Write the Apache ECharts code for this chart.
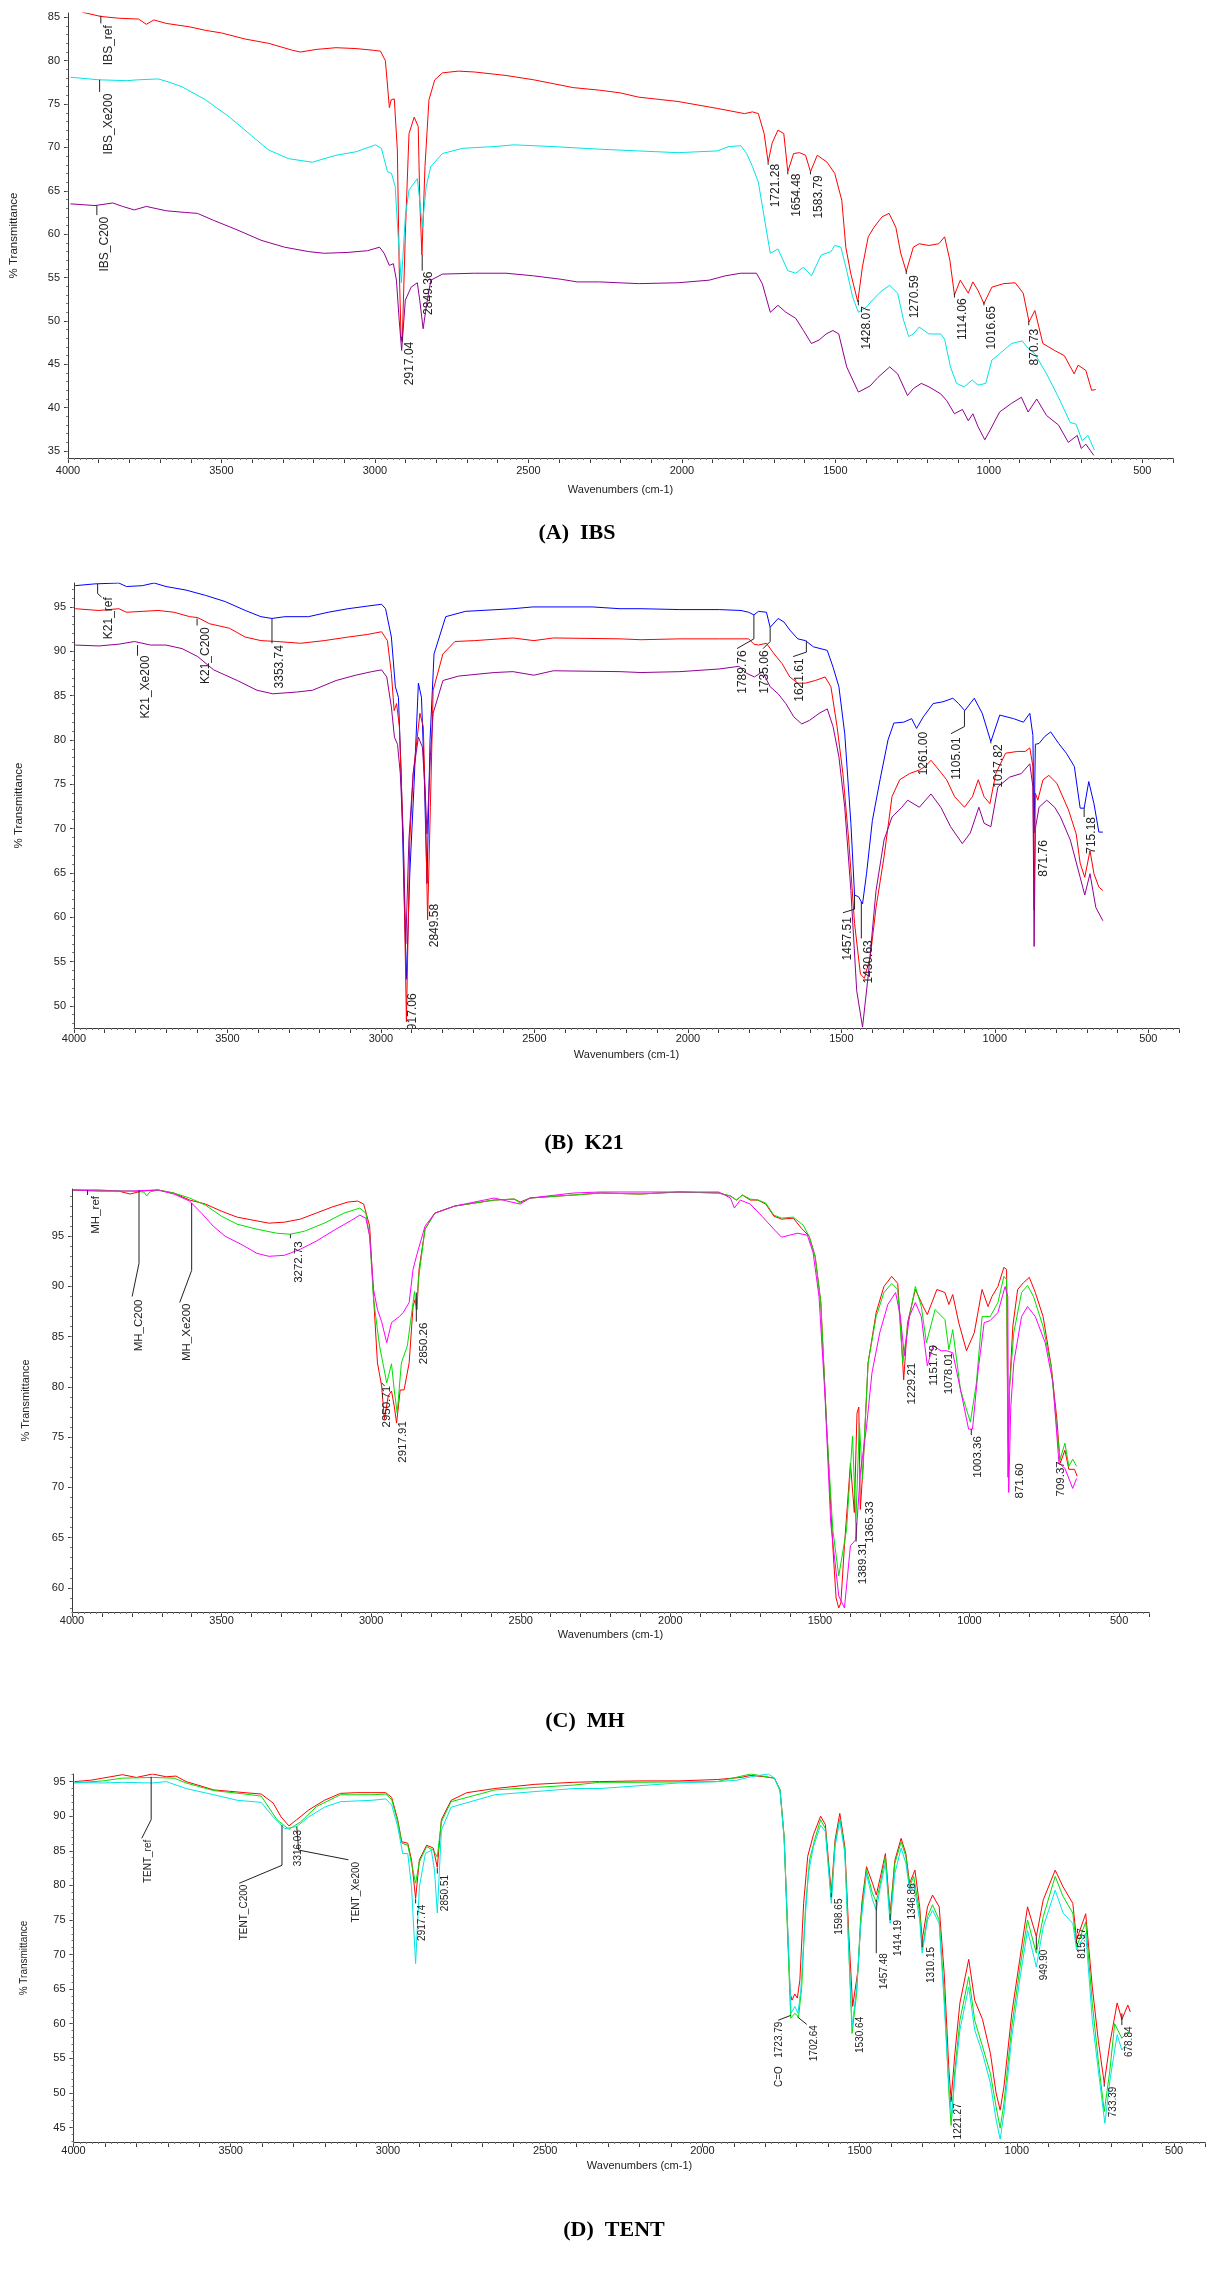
<!DOCTYPE html>
<html><head><meta charset="utf-8">
<script src="https://cdn.jsdelivr.net/npm/echarts@6/dist/echarts.min.js"></script>
<style>html,body{margin:0;padding:0;background:#fff}#c{width:1215px;height:2285px}</style>
</head><body><div id="c"></div>
<script>
// ---------- tick labels ----------
var xTickLabels = [4000,3500,3000,2500,2000,1500,1000,500];
var yTickLabelsA = [35,40,45,50,55,60,65,70,75,80,85];
var yTickLabelsB = [50,55,60,65,70,75,80,85,90,95];
var yTickLabelsC = [60,65,70,75,80,85,90,95];
var yTickLabelsD = [45,50,55,60,65,70,75,80,85,90,95];
var panelTitles = ['(A)  IBS','(B)  K21','(C)  MH','(D)  TENT'];
var seriesNames = [['IBS_ref','IBS_Xe200','IBS_C200'],['K21_ref','K21_C200','K21_Xe200'],['MH_ref','MH_C200','MH_Xe200'],['TENT_ref','TENT_C200','TENT_Xe200']];

// ---------- (A) IBS ----------
var ibsRef = [[3954,85.6],[3893,85.1],[3835,84.9],[3770,84.8],[3745,84.2],[3720,84.7],[3680,84.3],[3603,83.9],[3552,83.5],[3500,83.2],[3423,82.5],[3346,82.0],[3268,81.2],[3243,81.0],[3191,81.3],[3127,81.5],[3062,81.4],[3004,81.2],[2982,81.1],[2966,80.0],[2953,74.6],[2947,75.5],[2937,75.6],[2927,69.7],[2921,56.2],[2915,48.2],[2911,47.7],[2901,60.1],[2889,71.6],[2872,73.5],[2859,72.4],[2854,64.0],[2847,57.6],[2837,67.8],[2824,75.5],[2805,77.8],[2780,78.6],[2728,78.8],[2676,78.7],[2573,78.3],[2483,77.8],[2354,76.9],[2268,76.6],[2202,76.3],[2141,75.8],[2013,75.3],[1885,74.5],[1796,73.9],[1770,74.1],[1751,73.9],[1732,71.6],[1719,68.3],[1706,70.5],[1687,72.0],[1668,71.6],[1655,67.2],[1636,69.3],[1617,69.4],[1597,69.1],[1581,67.2],[1559,69.1],[1527,68.3],[1502,67.0],[1479,63.9],[1466,58.5],[1450,55.5],[1427,52.2],[1412,56.2],[1393,59.7],[1374,60.8],[1348,62.0],[1325,62.4],[1303,60.8],[1287,57.8],[1269,55.7],[1246,58.5],[1227,58.9],[1195,58.7],[1163,58.9],[1144,59.7],[1127,57.0],[1112,53.0],[1093,54.7],[1067,53.2],[1052,54.5],[1035,53.5],[1016,52.0],[990,53.9],[952,54.3],[914,54.4],[888,53.2],[869,49.9],[850,51.2],[824,47.4],[786,46.6],[754,46.0],[722,43.9],[709,44.9],[684,44.3],[665,42.0],[652,42.1]];
var ibsXe200 = [[3992,78.1],[3900,77.8],[3809,77.7],[3771,77.8],[3706,77.9],[3668,77.5],[3629,77.0],[3552,75.5],[3474,73.5],[3397,71.2],[3346,69.7],[3281,68.7],[3204,68.3],[3127,69.1],[3062,69.5],[2998,70.3],[2979,69.9],[2959,67.2],[2946,67.0],[2934,65.5],[2925,60.1],[2914,54.4],[2901,62.0],[2889,65.1],[2862,66.4],[2854,63.9],[2846,60.8],[2833,65.5],[2818,67.8],[2780,69.3],[2715,69.9],[2612,70.1],[2547,70.3],[2418,70.1],[2268,69.8],[2141,69.6],[2013,69.4],[1885,69.6],[1847,70.1],[1808,70.2],[1789,69.3],[1770,67.8],[1751,66.0],[1732,62.0],[1712,57.8],[1687,58.3],[1655,55.8],[1629,55.5],[1604,56.2],[1578,55.2],[1546,57.6],[1514,58.0],[1502,58.7],[1482,58.5],[1463,55.8],[1444,52.8],[1425,51.0],[1399,51.6],[1374,52.6],[1348,53.5],[1323,54.1],[1297,53.2],[1278,50.1],[1261,48.2],[1246,48.5],[1227,49.3],[1195,48.5],[1157,48.5],[1144,47.9],[1125,44.7],[1105,42.8],[1080,42.4],[1054,43.2],[1035,42.6],[1010,42.8],[990,45.5],[965,46.2],[926,47.4],[891,47.7],[876,47.0],[850,46.2],[812,43.9],[773,41.2],[735,38.3],[716,38.1],[696,36.2],[677,36.8],[656,35.1]];
var ibsC200 = [[3992,63.5],[3912,63.3],[3854,63.6],[3822,63.2],[3784,62.8],[3745,63.2],[3680,62.7],[3616,62.5],[3578,62.4],[3526,61.6],[3449,60.5],[3371,59.3],[3294,58.5],[3217,58.0],[3165,57.8],[3088,57.9],[3024,58.1],[2985,58.5],[2970,57.8],[2953,56.4],[2940,56.6],[2930,54.7],[2921,50.1],[2913,46.6],[2901,52.4],[2882,53.9],[2862,54.4],[2854,52.4],[2843,49.1],[2833,51.6],[2818,54.7],[2780,55.4],[2676,55.5],[2573,55.5],[2483,55.2],[2393,54.8],[2341,54.5],[2268,54.5],[2141,54.3],[2013,54.4],[1911,54.7],[1859,55.2],[1808,55.5],[1757,55.5],[1738,54.3],[1712,51.0],[1687,51.8],[1661,51.0],[1629,50.3],[1604,48.9],[1578,47.4],[1553,47.8],[1530,48.5],[1508,48.9],[1489,48.5],[1463,44.7],[1425,41.8],[1387,42.5],[1361,43.5],[1323,44.7],[1297,43.9],[1265,41.4],[1246,42.2],[1220,42.8],[1195,42.4],[1157,41.6],[1137,40.8],[1112,39.3],[1086,39.8],[1067,38.5],[1052,39.3],[1035,37.8],[1013,36.3],[990,37.8],[965,39.5],[926,40.5],[894,41.2],[872,39.5],[844,41.0],[812,39.1],[773,38.0],[741,36.0],[712,36.8],[699,35.3],[684,35.8],[658,34.5]];
// label: [text, textX, textTopY, leader points]
var ibsLabels = [
 ['IBS_ref',3867,84.1,[[3893,85.2],[3893,84.3]]],
 ['IBS_Xe200',3867,76.2,[[3897,77.8],[3897,76.4]]],
 ['IBS_C200',3880,62.0,[[3906,63.3],[3906,62.2]]],
 ['2917.04',2888,47.6,[[2912,48.2],[2912,47.6]]],
 ['2849.36',2824,55.7,[[2846,57.6],[2846,55.8]]],
 ['1721.28',1693,68.1,[[1719,68.3],[1719,68.0]]],
 ['1654.48',1627,67.0,[[1655,67.2],[1655,66.9]]],
 ['1583.79',1555,66.8,[[1581,67.2],[1581,66.9]]],
 ['1428.07',1399,51.7,[[1425,52.4],[1425,51.8]]],
 ['1270.59',1243,55.3,[[1269,55.8],[1269,55.4]]],
 ['1114.06',1086,52.6,[[1112,53.2],[1112,52.7]]],
 ['1016.65',990,51.7,[[1016,52.2],[1016,51.8]]],
 ['870.73',852,49.1,[[870,50.0],[870,49.5]]]
];

// ---------- (B) K21 ----------
var k21Ref = [[3996,97.4],[3932,97.6],[3854,97.7],[3829,97.3],[3777,97.4],[3739,97.7],[3700,97.3],[3635,96.9],[3571,96.3],[3507,95.6],[3442,94.6],[3391,93.9],[3355,93.7],[3313,93.9],[3236,93.9],[3172,94.4],[3107,94.8],[3043,95.1],[2998,95.3],[2985,94.8],[2966,91.6],[2953,86.0],[2943,84.8],[2934,76.2],[2925,63.0],[2917,53.0],[2906,64.9],[2893,74.3],[2878,86.4],[2868,84.8],[2859,76.2],[2850,63.8],[2840,80.0],[2827,89.7],[2789,93.9],[2725,94.5],[2570,94.8],[2505,95.0],[2312,95.0],[2221,94.8],[2153,94.8],[2026,94.7],[1898,94.7],[1827,94.6],[1802,94.4],[1785,94.1],[1770,94.5],[1744,94.4],[1732,92.7],[1706,93.7],[1687,93.3],[1668,92.4],[1642,91.4],[1617,91.2],[1591,90.5],[1546,90.1],[1527,88.2],[1508,86.0],[1489,80.7],[1469,70.6],[1457,62.5],[1444,62.3],[1431,61.5],[1418,64.9],[1399,70.9],[1374,75.5],[1348,80.0],[1329,81.9],[1297,82.0],[1271,82.4],[1255,81.3],[1233,82.6],[1201,84.1],[1169,84.3],[1137,84.7],[1118,84.1],[1098,83.3],[1067,84.7],[1041,83.0],[1013,79.8],[984,82.8],[939,82.4],[907,82.0],[886,83.0],[876,80.5],[872,69.5],[868,79.5],[856,79.6],[837,80.4],[818,80.9],[792,79.6],[767,78.5],[741,77.0],[722,72.3],[709,72.3],[694,75.3],[677,72.8],[661,69.6],[648,69.6]];
var k21C200 = [[3996,94.8],[3919,94.6],[3854,94.8],[3829,94.4],[3726,94.6],[3674,94.4],[3623,93.9],[3597,93.8],[3558,93.1],[3494,92.6],[3442,91.6],[3391,91.2],[3339,91.1],[3262,90.9],[3185,91.2],[3107,91.6],[3043,91.9],[2998,92.2],[2979,91.2],[2966,87.5],[2957,83.3],[2949,84.1],[2940,81.5],[2927,68.7],[2917,48.2],[2906,68.7],[2895,76.2],[2873,83.0],[2862,81.5],[2855,72.4],[2848,59.7],[2839,72.4],[2830,85.6],[2798,89.7],[2759,91.1],[2695,91.2],[2570,91.5],[2502,91.2],[2438,91.5],[2221,91.4],[2153,91.3],[2026,91.4],[1898,91.4],[1802,91.4],[1785,90.8],[1770,90.7],[1744,90.9],[1719,89.7],[1693,88.6],[1668,87.1],[1642,86.4],[1617,86.4],[1585,86.7],[1553,87.1],[1534,86.0],[1514,81.5],[1495,76.2],[1476,68.7],[1457,59.3],[1438,53.6],[1425,53.1],[1406,55.5],[1387,61.1],[1361,66.8],[1335,73.6],[1310,75.5],[1278,76.2],[1246,76.6],[1227,77.0],[1208,77.7],[1182,76.6],[1157,75.5],[1131,73.6],[1099,72.4],[1073,73.6],[1054,75.5],[1035,73.6],[1016,72.8],[997,76.2],[965,78.5],[926,78.7],[901,78.7],[886,79.1],[876,77.0],[872,60.8],[868,74.0],[860,73.2],[843,75.5],[824,76.0],[798,75.1],[760,72.1],[735,69.4],[722,66.1],[707,64.5],[690,67.5],[677,64.9],[661,63.4],[648,63.0]];
var k21Xe200 = [[3996,90.7],[3919,90.6],[3854,90.8],[3803,91.1],[3751,90.7],[3700,90.7],[3648,90.3],[3597,89.4],[3545,87.9],[3468,86.7],[3404,85.6],[3352,85.2],[3275,85.4],[3223,85.6],[3146,86.7],[3082,87.3],[3030,87.7],[2998,87.9],[2981,87.1],[2966,83.7],[2956,80.3],[2946,79.5],[2937,76.2],[2927,68.7],[2919,57.0],[2909,68.7],[2895,76.2],[2878,80.3],[2865,79.2],[2856,74.3],[2850,69.4],[2839,78.1],[2830,83.0],[2798,86.7],[2747,87.2],[2631,87.6],[2570,87.7],[2502,87.3],[2438,87.8],[2221,87.7],[2153,87.6],[2026,87.7],[1898,88.0],[1834,88.3],[1808,87.5],[1783,87.1],[1757,87.7],[1732,86.0],[1706,85.2],[1681,84.1],[1655,82.6],[1629,81.8],[1604,82.2],[1572,83.0],[1546,83.5],[1527,81.5],[1508,78.1],[1489,72.4],[1469,63.0],[1450,51.7],[1431,47.6],[1412,53.6],[1387,63.0],[1361,68.7],[1335,71.3],[1303,72.4],[1284,73.2],[1246,72.4],[1208,73.9],[1176,72.4],[1144,70.2],[1106,68.3],[1080,69.5],[1052,72.4],[1035,70.6],[1013,70.2],[990,74.7],[952,75.8],[914,76.2],[886,77.3],[876,74.7],[872,56.7],[868,70.0],[856,72.4],[831,73.2],[805,72.4],[786,71.3],[754,68.7],[722,64.5],[707,62.5],[690,64.9],[671,61.1],[648,59.6]];
var k21Labels = [
 ['K21_ref',3887,96.1,[[3923,97.6],[3923,96.5],[3910,96.1]]],
 ['K21_Xe200',3767,89.5,[[3793,90.7],[3793,89.5]]],
 ['K21_C200',3571,92.7,[[3599,93.7],[3599,92.9]]],
 ['3353.74',3330,90.7,[[3355,93.7],[3355,90.9]]],
 ['2917.06',2895,51.4,[]],
 ['2849.58',2824,61.5,[]],
 ['1789.76',1821,90.1,[[1785,94.1],[1785,91.4],[1840,90.3]]],
 ['1735.06',1751,90.1,[[1732,92.7],[1732,91.1],[1755,90.3]]],
 ['1621.61',1636,89.2,[[1614,91.2],[1614,89.9],[1657,89.4]]],
 ['1457.51',1479,60.0,[[1457,62.5],[1457,60.9],[1495,60.5]]],
 ['1430.63',1412,57.4,[[1435,61.7],[1435,57.6]]],
 ['1261.00',1231,80.9,[]],
 ['1105.01',1125,80.3,[[1099,83.3],[1099,81.5],[1143,80.7]]],
 ['1017.82',988,79.5,[[1013,79.8],[1013,79.6]]],
 ['871.76',841,68.7,[]],
 ['715.18',686,71.3,[[709,72.3],[709,71.3]]]
];

// ---------- (C) MH ----------
var mhRef = [[3997,99.6],[3911,99.6],[3845,99.5],[3806,99.2],[3766,99.5],[3713,99.6],[3660,99.3],[3607,98.6],[3554,98.2],[3501,97.5],[3448,96.9],[3395,96.6],[3342,96.3],[3290,96.4],[3237,96.7],[3184,97.3],[3131,97.9],[3078,98.4],[3045,98.5],[3025,98.2],[3005,96.0],[2992,89.0],[2979,82.4],[2965,80.1],[2956,76.8],[2943,79.1],[2932,79.6],[2923,78.1],[2915,76.4],[2903,79.7],[2890,79.7],[2873,82.4],[2860,88.0],[2853,88.7],[2847,87.7],[2840,91.7],[2820,95.7],[2787,97.3],[2721,98.0],[2589,98.6],[2522,98.7],[2502,98.4],[2469,98.8],[2324,99.1],[2233,99.3],[2101,99.2],[1970,99.4],[1838,99.3],[1799,99.0],[1779,98.6],[1759,99.1],[1733,98.6],[1707,98.6],[1681,98.2],[1654,97.0],[1628,96.7],[1589,96.8],[1562,95.8],[1536,95.0],[1516,93.0],[1497,88.4],[1477,75.8],[1457,64.2],[1446,59.0],[1437,58.0],[1430,58.5],[1418,64.2],[1398,72.4],[1385,67.5],[1376,77.4],[1370,78.0],[1365,67.8],[1355,72.4],[1339,82.4],[1312,87.4],[1286,90.0],[1260,91.0],[1240,90.3],[1230,86.0],[1220,80.7],[1207,86.4],[1181,89.7],[1155,88.0],[1141,87.2],[1109,89.7],[1082,89.4],[1069,88.2],[1056,89.2],[1036,86.4],[1010,83.6],[984,85.4],[958,89.7],[938,88.0],[925,89.0],[905,90.0],[885,91.9],[876,91.7],[871,71.0],[866,80.0],[855,86.1],[839,89.7],[819,90.4],[800,90.9],[780,89.4],[754,87.0],[727,82.1],[708,76.8],[697,72.4],[681,73.7],[668,71.8],[649,71.8],[640,71.1]];
var mhC200 = [[3997,99.6],[3911,99.5],[3806,99.5],[3760,99.4],[3750,99.0],[3740,99.4],[3713,99.6],[3660,99.3],[3607,98.8],[3554,98.1],[3501,97.0],[3448,96.2],[3382,95.7],[3316,95.3],[3270,95.2],[3223,95.5],[3157,96.3],[3091,97.3],[3038,97.8],[3018,97.3],[3005,95.0],[2992,88.7],[2972,84.1],[2948,80.4],[2932,82.3],[2923,79.7],[2913,77.4],[2899,82.4],[2879,84.1],[2863,87.7],[2855,89.5],[2849,87.7],[2842,90.7],[2820,95.7],[2787,97.3],[2721,98.0],[2589,98.6],[2522,98.7],[2502,98.3],[2469,98.8],[2324,99.1],[2233,99.3],[2101,99.2],[1970,99.4],[1838,99.3],[1799,99.0],[1779,98.6],[1759,99.1],[1733,98.7],[1707,98.6],[1681,98.3],[1654,97.1],[1628,96.8],[1589,96.9],[1556,96.1],[1536,95.0],[1516,93.0],[1497,88.4],[1477,75.8],[1457,65.8],[1437,61.2],[1411,65.8],[1391,75.1],[1380,66.5],[1368,76.4],[1358,70.8],[1339,82.4],[1312,87.0],[1286,89.4],[1260,90.3],[1240,89.7],[1223,82.4],[1207,86.0],[1181,90.0],[1161,88.0],[1144,84.4],[1115,87.7],[1082,86.7],[1069,83.7],[1056,85.7],[1030,79.7],[997,76.5],[977,80.4],[958,87.0],[931,87.0],[905,88.4],[885,91.0],[876,90.7],[871,74.1],[866,80.0],[852,85.4],[826,89.4],[806,90.1],[786,89.0],[754,86.0],[727,82.0],[708,75.8],[697,72.8],[681,74.4],[668,72.1],[655,72.8],[642,72.1]];
var mhXe200 = [[3997,99.6],[3911,99.5],[3806,99.5],[3713,99.6],[3660,99.2],[3607,98.5],[3567,97.3],[3528,96.0],[3488,95.0],[3435,94.2],[3382,93.3],[3342,93.0],[3290,93.1],[3237,93.7],[3184,94.5],[3118,95.7],[3065,96.6],[3038,97.1],[3018,96.8],[3005,95.0],[2992,89.7],[2979,87.7],[2965,86.5],[2948,84.4],[2932,86.4],[2906,87.0],[2893,87.4],[2873,88.4],[2860,91.7],[2847,93.2],[2820,96.0],[2787,97.3],[2721,98.0],[2589,98.8],[2502,98.2],[2469,98.8],[2324,99.3],[2233,99.4],[1970,99.4],[1838,99.4],[1799,98.8],[1786,97.8],[1766,98.6],[1733,98.2],[1694,97.0],[1654,95.7],[1628,94.9],[1602,95.1],[1575,95.3],[1542,95.1],[1523,93.4],[1503,89.0],[1483,79.1],[1464,66.5],[1437,59.2],[1418,58.0],[1398,64.2],[1380,64.8],[1365,71.4],[1345,75.8],[1326,81.4],[1300,85.4],[1273,88.2],[1247,89.4],[1231,87.0],[1218,83.1],[1201,87.0],[1181,88.4],[1161,87.0],[1141,82.1],[1122,84.1],[1095,83.6],[1076,83.6],[1056,83.4],[1030,79.7],[1003,75.8],[990,75.8],[971,81.7],[951,86.4],[931,86.6],[905,87.4],[881,90.0],[872,89.0],[869,69.5],[862,78.0],[852,82.4],[826,87.0],[806,88.0],[780,87.0],[747,84.4],[721,80.4],[701,72.4],[681,71.9],[655,69.9],[642,70.9]];
var mhLabels = [
 ['MH_ref',3921,99.0,[[3948,99.6],[3948,99.1]]],
 ['MH_C200',3776,88.7,[[3776,99.6],[3776,92.3],[3799,89.0]]],
 ['MH_Xe200',3616,88.3,[[3600,98.3],[3600,91.6],[3640,88.4]]],
 ['3272.73',3243,94.5,[[3270,95.2],[3270,94.8]]],
 ['2950.71',2948,80.1,[[2965,80.4],[2955,80.1]]],
 ['2917.91',2893,76.6,[]],
 ['2850.26',2824,86.4,[[2849,89.4],[2849,86.5]]],
 ['1389.31',1355,64.5,[[1379,66.5],[1379,64.6]]],
 ['1365.33',1332,68.6,[]],
 ['1229.21',1194,82.4,[]],
 ['1151.79',1118,84.2,[]],
 ['1078.01',1069,83.4,[]],
 ['1003.36',971,75.1,[[994,75.8],[994,75.2]]],
 ['871.60',833,72.4,[]],
 ['709.37',695,72.6,[]]
];

// ---------- (D) TENT ----------
var tentRef = [[3997,95.0],[3945,95.2],[3907,95.5],[3844,96.0],[3800,95.6],[3749,96.1],[3705,95.7],[3674,95.8],[3642,95.0],[3605,94.5],[3554,93.8],[3504,93.6],[3454,93.4],[3403,93.2],[3365,91.9],[3340,89.9],[3315,88.6],[3290,89.5],[3252,90.9],[3202,92.3],[3151,93.3],[3101,93.4],[3051,93.4],[3007,93.4],[2988,92.7],[2969,89.5],[2956,86.3],[2937,86.1],[2925,83.7],[2912,78.1],[2900,83.7],[2877,85.8],[2856,85.4],[2843,82.6],[2830,89.5],[2799,92.3],[2749,93.4],[2660,94.0],[2535,94.6],[2409,94.9],[2327,95.0],[2202,95.1],[2077,95.1],[1953,95.3],[1878,95.6],[1846,95.9],[1803,95.7],[1771,95.5],[1753,93.8],[1740,87.0],[1730,75.0],[1721,64.4],[1715,63.4],[1706,64.3],[1698,63.7],[1690,66.3],[1678,77.4],[1665,84.2],[1647,87.3],[1624,90.0],[1609,88.8],[1590,78.9],[1578,86.6],[1563,90.4],[1547,85.6],[1534,72.6],[1522,62.5],[1505,67.8],[1493,77.4],[1478,82.7],[1459,80.3],[1447,78.6],[1434,81.2],[1418,84.6],[1403,75.9],[1388,83.6],[1368,86.8],[1353,84.6],[1341,80.3],[1324,82.2],[1309,76.9],[1301,72.1],[1284,76.9],[1268,78.6],[1247,76.9],[1231,67.3],[1216,53.3],[1209,49.0],[1197,55.7],[1181,63.0],[1153,69.3],[1134,63.4],[1109,60.6],[1084,55.7],[1066,50.0],[1053,47.5],[1041,50.9],[1016,61.5],[991,69.2],[966,76.9],[938,72.6],[916,77.9],[878,82.2],[853,79.8],[822,77.4],[810,72.1],[781,75.9],[760,65.3],[741,57.6],[722,51.4],[704,57.2],[681,63.0],[666,60.6],[647,62.7],[639,61.7]];
var tentC200 = [[3997,94.8],[3907,95.1],[3844,95.5],[3749,95.6],[3680,95.5],[3642,94.8],[3554,93.7],[3454,93.2],[3403,92.9],[3353,89.5],[3315,88.1],[3277,89.2],[3227,91.4],[3151,93.1],[3051,93.1],[3007,93.2],[2988,92.4],[2969,89.2],[2956,86.1],[2937,85.8],[2925,83.2],[2912,80.3],[2900,83.4],[2877,85.6],[2856,85.1],[2843,84.1],[2830,89.2],[2799,92.1],[2660,93.8],[2409,94.5],[2327,94.9],[2202,94.9],[1953,95.0],[1846,96.1],[1771,95.5],[1753,93.8],[1740,87.0],[1730,74.0],[1719,60.8],[1706,61.5],[1694,61.0],[1684,65.4],[1672,76.9],[1659,83.7],[1643,86.6],[1624,89.5],[1609,88.2],[1590,77.9],[1578,86.1],[1563,89.6],[1547,85.1],[1534,70.2],[1524,58.6],[1509,64.6],[1497,75.0],[1478,82.2],[1459,78.8],[1447,77.6],[1434,80.3],[1418,84.2],[1403,75.0],[1388,83.2],[1368,86.3],[1353,84.2],[1341,79.8],[1328,81.3],[1309,76.0],[1301,70.7],[1284,75.5],[1268,77.2],[1247,75.0],[1231,64.4],[1216,49.9],[1209,45.3],[1197,53.3],[1181,60.5],[1153,66.8],[1134,60.5],[1109,56.7],[1084,52.8],[1066,48.0],[1053,44.9],[1041,48.5],[1016,59.6],[991,67.8],[966,75.0],[938,70.2],[916,75.5],[878,81.3],[853,78.4],[822,76.0],[810,71.1],[781,74.7],[760,62.9],[741,54.7],[722,47.3],[704,53.3],[689,60.0],[666,57.9],[647,58.8],[639,58.6]];
var tentXe200 = [[3997,94.9],[3907,94.8],[3844,94.9],[3749,94.8],[3705,95.0],[3642,94.0],[3554,93.1],[3479,92.3],[3403,92.0],[3365,89.9],[3328,88.2],[3290,88.5],[3252,89.9],[3202,91.3],[3151,92.1],[3051,92.3],[3007,92.5],[2988,91.6],[2969,88.5],[2953,84.6],[2937,84.6],[2925,79.8],[2912,68.7],[2900,79.8],[2881,84.6],[2862,85.1],[2852,82.2],[2843,76.0],[2830,88.0],[2799,91.3],[2660,93.1],[2409,94.0],[2327,94.0],[2077,94.8],[1953,95.0],[1890,95.2],[1846,95.7],[1790,96.1],[1771,95.5],[1753,93.6],[1740,86.6],[1728,73.1],[1718,61.5],[1706,62.5],[1696,61.5],[1687,64.9],[1675,74.0],[1663,81.7],[1647,85.6],[1624,88.7],[1609,87.8],[1590,77.4],[1578,85.6],[1563,89.5],[1547,84.6],[1534,70.2],[1524,59.6],[1509,65.3],[1497,74.0],[1478,81.7],[1459,77.9],[1447,76.4],[1434,79.8],[1418,83.2],[1403,74.5],[1388,81.7],[1368,85.4],[1353,83.2],[1341,79.3],[1328,80.3],[1309,75.0],[1301,70.2],[1284,75.0],[1268,76.4],[1247,74.5],[1231,62.9],[1216,50.9],[1207,46.5],[1197,52.3],[1181,59.1],[1153,65.3],[1134,59.1],[1109,55.7],[1084,51.4],[1066,46.1],[1053,43.3],[1041,47.0],[1016,58.1],[991,66.3],[966,73.5],[938,68.2],[916,74.0],[878,79.3],[853,76.0],[822,74.5],[810,70.7],[781,73.1],[760,60.5],[741,53.3],[720,45.6],[704,51.8],[681,58.4],[666,56.2],[654,56.9]];
var tentLabels = [
 ['TENT_ref',3762,86.6,[[3753,95.7],[3753,89.5],[3783,86.8]]],
 ['TENT_C200',3456,80.1,[[3337,88.7],[3337,82.9],[3473,80.3]]],
 ['3316.03',3284,88.0,[]],
 ['TENT_Xe200',3101,83.4,[[3290,88.5],[3284,85.1],[3126,83.7]]],
 ['2917.74',2890,77.2,[[2912,78.0],[2912,77.4]]],
 ['2850.51',2818,81.5,[[2843,82.5],[2843,81.7]]],
 ['C=O   1723.79',1755,60.3,[[1719,61.2],[1759,60.5]]],
 ['1702.64',1643,59.8,[[1698,61.0],[1668,59.9]]],
 ['1598.65',1565,78.1,[[1590,78.9],[1590,78.3]]],
 ['1530.64',1497,61.0,[]],
 ['1457.48',1422,70.2,[[1447,77.9],[1447,70.2]]],
 ['1414.19',1378,75.0,[[1403,75.9],[1403,75.0]]],
 ['1346.86',1334,80.3,[]],
 ['1310.15',1272,71.1,[[1301,72.1],[1301,71.1]]],
 ['1221.27',1186,48.5,[[1209,49.4],[1209,48.7]]],
 ['949.90',912,70.7,[[938,72.6],[938,70.7]]],
 ['815.97',791,73.8,[[810,72.1],[810,71.6]]],
 ['733.39',694,50.9,[[722,51.4],[722,50.9]]],
 ['678.84',641,59.6,[[666,61.5],[666,59.8]]]
];

// ---------- layout / styling ----------
var panels = [
 {left:68, top:13, width:1105, height:445, yMin:34.2, yMax:85.5, labelMargin:7, nameGap:26, yNameGap:48, annFont:12, yNameFont:11.5, clip:false,
  yLabels:yTickLabelsA, data:[ibsRef,ibsXe200,ibsC200], colors:['#ff0000','#00e5e5','#930093'], labels:ibsLabels, title:[577,533]},
 {left:74, top:583, width:1105, height:445, yMin:47.5, yMax:97.7, labelMargin:5, nameGap:21, yNameGap:49, annFont:12, yNameFont:11.5, clip:true,
  yLabels:yTickLabelsB, data:[k21Ref,k21C200,k21Xe200], colors:['#0000ff','#ff0000','#930093'], labels:k21Labels, title:[584,1143]},
 {left:72, top:1189, width:1077, height:423, yMin:57.6, yMax:99.7, labelMargin:3, nameGap:17, yNameGap:41, annFont:11.5, yNameFont:11, clip:false,
  yLabels:yTickLabelsC, data:[mhRef,mhC200,mhXe200], colors:['#ff0000','#00e000','#ff00ff'], labels:mhLabels, title:[585,1721]},
 {left:73.5, top:1774, width:1132, height:368, yMin:42.9, yMax:96.1, labelMargin:3, nameGap:18, yNameGap:44, annFont:10, yNameFont:10, clip:false,
  yLabels:yTickLabelsD, data:[tentRef,tentC200,tentXe200], colors:['#ff0000','#00e000','#00e5e5'], labels:tentLabels, title:[614,2230]}
];

var FONT = '"Liberation Sans", Arial, sans-serif';
var AX = '#3a3a3a';
function range(a,b,s){var r=[];for(var v=a;v<=b+1e-9;v+=s)r.push(Math.round(v*100)/100);return r;}
var xMajor = range(400,4000,100), xMinor = range(400,4000,20);
function plain(v){return String(v);}

var grids=[], xAxes=[], yAxes=[], series=[], graphics=[];
panels.forEach(function(p,i){
  grids.push({left:p.left, top:p.top, width:p.width, height:p.height, containLabel:false});
  xAxes.push({gridIndex:i, type:'value', position:'bottom', min:400, max:4000, inverse:true,
    axisLine:{show:true, onZero:false, lineStyle:{color:AX,width:1}},
    axisTick:{show:true, customValues:xMajor, length:5, lineStyle:{color:AX}},
    axisLabel:{customValues:xTickLabels, formatter:plain, margin:p.labelMargin, fontSize:11, color:'#222', fontFamily:FONT},
    splitLine:{show:false},
    name:'Wavenumbers (cm-1)', nameLocation:'middle', nameGap:p.nameGap,
    nameTextStyle:{fontSize:11, color:'#222', fontFamily:FONT}});
  xAxes.push({gridIndex:i, type:'value', position:'bottom', min:400, max:4000, inverse:true,
    axisLine:{show:false, onZero:false}, axisTick:{show:true, customValues:xMinor, length:2, lineStyle:{color:'#777'}},
    axisLabel:{show:false}, splitLine:{show:false}});
  yAxes.push({gridIndex:i, type:'value', position:'left', min:p.yMin, max:p.yMax,
    axisLine:{show:true, onZero:false, lineStyle:{color:AX,width:1}},
    axisTick:{show:true, customValues:p.yLabels, length:4, lineStyle:{color:AX}},
    axisLabel:{customValues:p.yLabels, formatter:plain, margin:8, fontSize:11, color:'#222', fontFamily:FONT},
    splitLine:{show:false},
    name:'% Transmittance', nameLocation:'middle', nameGap:p.yNameGap, nameRotate:90,
    nameTextStyle:{fontSize:p.yNameFont, color:'#222', fontFamily:FONT}});
  yAxes.push({gridIndex:i, type:'value', position:'left', min:p.yMin, max:p.yMax,
    axisLine:{show:false, onZero:false}, axisTick:{show:true, customValues:range(Math.ceil(p.yMin),Math.floor(p.yMax),1), length:2, lineStyle:{color:'#777'}},
    axisLabel:{show:false}, splitLine:{show:false}});
  p.data.forEach(function(d,k){
    series.push({type:'line', name:seriesNames[i][k], xAxisIndex:2*i, yAxisIndex:2*i, data:d,
      showSymbol:false, symbol:'none', smooth:false, animation:false,
      lineStyle:{color:p.colors[k], width:1}, itemStyle:{color:p.colors[k]}, z:3+k});
  });
  var anns = p.labels, annFont = p.annFont;
  series.push({type:'custom', xAxisIndex:2*i, yAxisIndex:2*i, coordinateSystem:'cartesian2d',
    silent:true, animation:false, clip:p.clip, z:10,
    data: anns.map(function(a){return [a[1],a[2]];}),
    encode:{x:0,y:1},
    renderItem:function(params, api){
      var a = anns[params.dataIndex];
      var ch = [];
      if (a[3] && a[3].length > 1) {
        ch.push({type:'polyline', shape:{points:a[3].map(function(pt){return api.coord(pt);})},
          style:{stroke:'#222', lineWidth:1, fill:null}});
      }
      var c = api.coord([a[1],a[2]]);
      ch.push({type:'text', x:c[0], y:c[1], rotation:Math.PI/2,
        style:{text:a[0], align:'right', verticalAlign:'middle', fill:'#222',
          font:annFont + 'px "Liberation Sans", Arial, sans-serif'}});
      return {type:'group', children:ch};
    }});
  graphics.push({type:'text', x:p.title[0], y:p.title[1],
    style:{text:panelTitles[i], align:'center', verticalAlign:'middle', fill:'#000',
      font:'bold 22px "Liberation Serif", "Times New Roman", serif'}});
});

var chart = echarts.init(document.getElementById('c'), null, {renderer:'canvas'});
chart.setOption({
  animation:false, backgroundColor:'#fff',
  grid:grids, xAxis:xAxes, yAxis:yAxes, series:series, graphic:graphics,
  tooltip:{show:false}, legend:{show:false}
});
</script></body></html>
